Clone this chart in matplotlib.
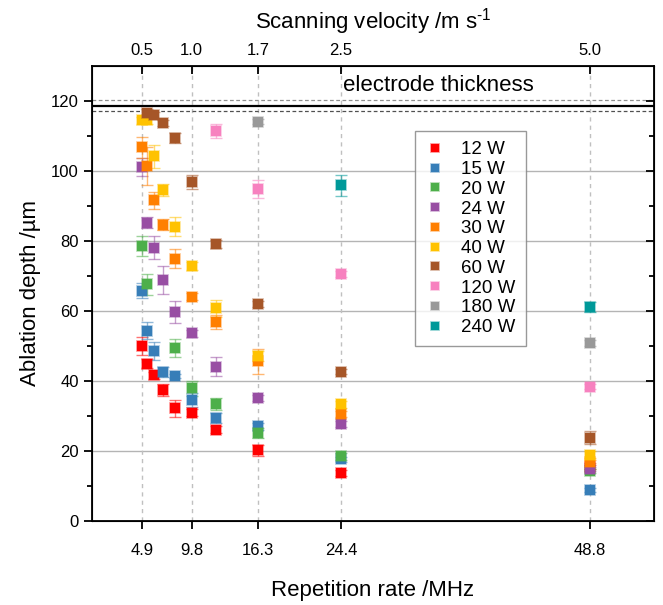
import numpy as np
import matplotlib
matplotlib.use("Agg")
import matplotlib.pyplot as plt

plt.rcParams['font.family'] = ['Liberation Sans', 'DejaVu Sans']
plt.rcParams['mathtext.fontset'] = 'custom'
plt.rcParams['mathtext.rm'] = 'Liberation Sans'
plt.rcParams['mathtext.it'] = 'Liberation Sans'

nan = np.nan
rates = [4.88, 5.42, 6.1, 6.97, 8.13, 9.76, 12.2, 16.27, 24.4, 48.8]
tick_rates = [4.88, 9.76, 16.27, 24.4, 48.8]
rate_labels = ['4.9', '9.8', '16.3', '24.4', '48.8']
velocity_labels = ['0.5', '1.0', '1.7', '2.5', '5.0']

powers = ['12 W', '15 W', '20 W', '24 W', '30 W', '40 W', '60 W', '120 W', '180 W', '240 W']
colors = ['#FF0000', '#377EB8', '#4DAF4A', '#984EA3', '#FF7F00', '#FFC200',
          '#A65628', '#F781BF', '#999999', '#009999']

d12 = [50.0, 45.0, 41.7, 37.4, 32.2, 30.9, 26.1, 20.2, 13.8, 15.5]
d15 = [65.8, 54.4, 48.6, 42.6, 41.4, 34.5, 29.5, 27.1, 17.6, 8.9]
d20 = [78.6, 67.7, nan, nan, 49.5, 37.9, 33.4, 25.1, 18.5, 14.3]
d24 = [101.1, 85.2, 78.1, 68.8, 59.8, 53.6, 44.1, 35.1, 27.8, 14.8]
d30 = [106.8, 101.4, 91.6, 84.7, 74.9, 64.1, 56.9, 45.6, 30.6, 17.0]
d40 = [114.5, 114.5, 104.2, 94.5, 84.1, 72.9, 60.8, 47.1, 33.3, 19.0]
d60 = [nan, 116.6, 115.9, 113.7, 109.5, 96.9, 79.1, 62.0, 42.7, 23.8]
d120 = [nan, nan, nan, nan, nan, nan, 111.5, 94.8, 70.5, 38.4]
d180 = [nan, nan, nan, nan, nan, nan, nan, 114.1, nan, 50.9]
d240 = [nan, nan, nan, nan, nan, nan, nan, nan, 96.0, 61.2]

e12 = [2.6, 1.4, 1.0, 1.8, 2.4, 1.0, 1.0, 1.5, 0.8, 0.6]
e15 = [2.1, 2.5, 2.6, 1.4, 0.5, 2.0, 1.4, 1.0, 0.8, 0.6]
e20 = [2.9, 3.0, nan, nan, 2.5, 2.2, 1.7, 1.5, 1.0, 0.5]
e24 = [2.5, 1.6, 3.2, 4.0, 3.1, 1.0, 2.7, 0.8, 0.8, 0.5]
e30 = [3.0, 5.5, 2.5, 1.5, 2.7, 1.0, 2.0, 3.6, 0.8, 0.5]
e40 = [1.0, 1.0, 3.2, 1.7, 2.7, 1.2, 2.4, 1.5, 1.0, 1.0]
e60 = [nan, 1.0, 1.0, 0.8, 1.4, 2.0, 1.2, 0.8, 0.8, 1.8]
e120 = [nan, nan, nan, nan, nan, nan, 2.0, 2.5, 0.8, 0.8]
e180 = [nan, nan, nan, nan, nan, nan, nan, 0.8, nan, 0.8]
e240 = [nan, nan, nan, nan, nan, nan, nan, nan, 3.0, 1.5]

depths = [d12, d15, d20, d24, d30, d40, d60, d120, d180, d240]
errors = [e12, e15, e20, e24, e30, e40, e60, e120, e180, e240]

thickness = 118.7
thickness_lo = 117.1
thickness_hi = 120.3

W, H = 663, 605
fig = plt.figure(figsize=(W / 100, H / 100), dpi=100)
ax = fig.add_axes([92 / W, 1 - 521 / H, (654 - 92) / W, (521 - 66) / H])

ax.set_xlim(0, 55.1)
ax.set_ylim(0, 130)

# grid
for yv in [20, 40, 60, 80, 100]:
    ax.axhline(yv, color='#b4b4b4', lw=1.0, zorder=0)
for xv in tick_rates:
    ax.axvline(xv, color='#c0c0c0', lw=1.0, ls=(0, (3, 3)), zorder=0)

# electrode thickness
ax.axhline(thickness, color='black', lw=1.6, zorder=1)
ax.axhline(thickness_hi, color='#909090', lw=0.9, ls=(0, (3, 2)), zorder=1)
ax.axhline(thickness_lo, color='#505050', lw=0.9, ls=(0, (3, 2)), zorder=1)
ax.text(34.0, 121.3, 'electrode thickness', fontsize=16, ha='center', va='bottom')

for p, c, d, e in zip(powers, colors, depths, errors):
    d = np.array(d, dtype=float)
    e = np.array(e, dtype=float)
    x = np.array(rates)
    m = ~np.isnan(d)
    ax.errorbar(x[m], d[m], yerr=e[m], fmt='none', ecolor=c, alpha=0.55,
                elinewidth=1.0, capsize=4, capthick=1.0, zorder=2)
    ax.plot(x[m], d[m], 's', color=c, ms=6.8, mec=matplotlib.colors.to_rgba(c, 0.45),
            mew=1.2, label=p, zorder=3)

ax.set_xticks(tick_rates)
ax.set_xticklabels(rate_labels)
ax.set_yticks(np.arange(0, 121, 20))
ax.set_yticks(np.arange(10, 130, 20), minor=True)
ax.tick_params(axis='x', which='major', direction='out', length=6, width=1.3,
               labelsize=12, pad=10)
ax.tick_params(axis='y', which='major', direction='out', length=6, width=1.3,
               labelsize=12, right=True)
ax.tick_params(axis='y', which='minor', direction='out', length=3.5, width=1.3, right=True)
for t in ax.yaxis.get_major_ticks() + ax.yaxis.get_minor_ticks():
    t.tick2line.set_marker(matplotlib.lines.TICKLEFT)

for s in ax.spines.values():
    s.set_linewidth(1.3)

ax.set_xlabel('Repetition rate /MHz', fontsize=16, labelpad=16)
ax.set_ylabel('Ablation depth /µm', fontsize=16, labelpad=7)

ax2 = ax.twiny()
ax2.set_xlim(ax.get_xlim())
ax2.set_xticks(tick_rates)
ax2.set_xticklabels(velocity_labels)
ax2.tick_params(axis='x', direction='in', length=6, width=1.3, labelsize=12, pad=6)
ax2.set_xlabel('Scanning velocity /m s$^{\\text{-1}}$', fontsize=16, labelpad=10)

leg = ax.legend(loc='upper left', bbox_to_anchor=((415 - 92) / 562, 1 - (131 - 66) / 455),
                fontsize=13.5, frameon=True, fancybox=False, edgecolor='#808080',
                labelspacing=0.14, handlelength=1.0, handletextpad=0.9,
                borderpad=0.55, borderaxespad=0, markerscale=0.85)
leg.get_frame().set_linewidth(1.0)

fig.savefig('out.png', dpi=100)
